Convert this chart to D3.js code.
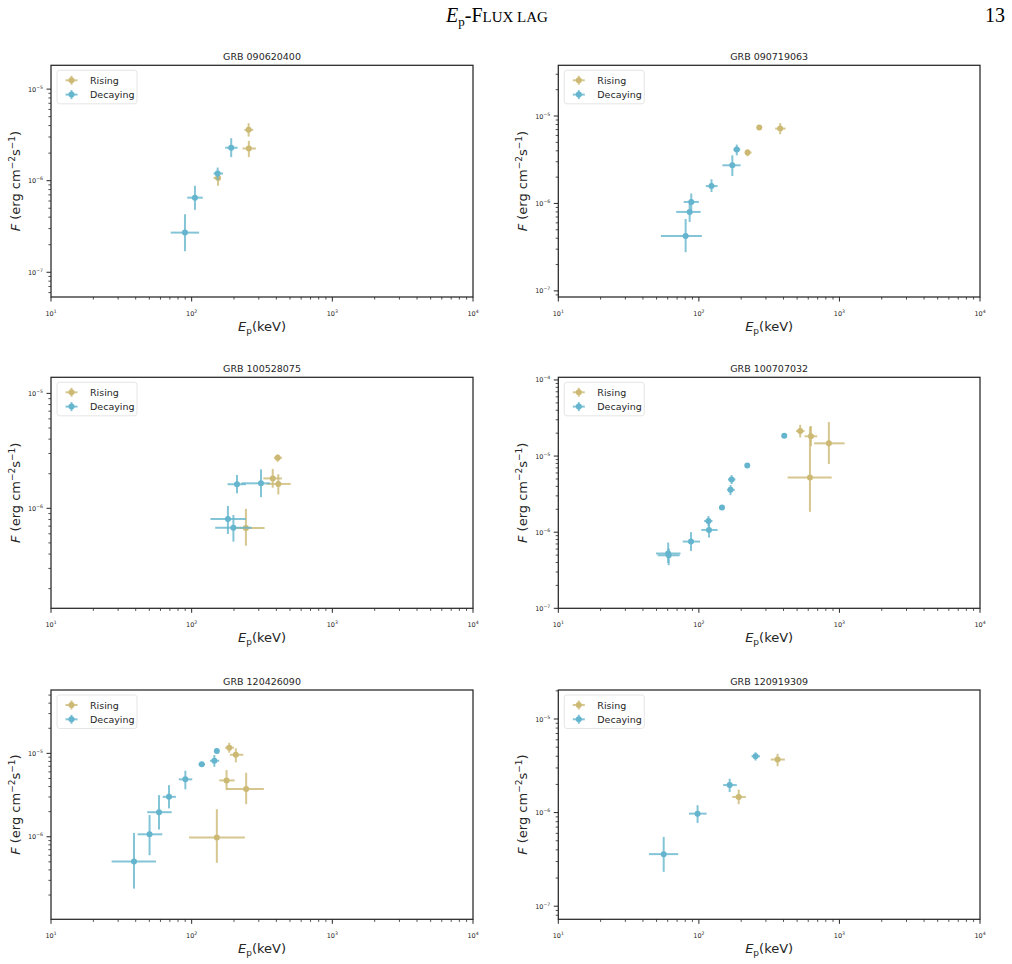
<!DOCTYPE html>
<html><head><meta charset="utf-8">
<script src="https://cdn.jsdelivr.net/npm/d3@7"></script>
<style>
body{margin:0;background:#fff;}
svg{display:block;}
text{font-family:"DejaVu Sans",sans-serif;fill:#262626;}
</style></head>
<body>
<svg id="chart" width="1012" height="964"></svg>
<script>
// ---- Data: rows are [Ep, Ep_low, Ep_high, Flux, Flux_low, Flux_high] ----
const titles = ["GRB 090620400","GRB 090719063","GRB 100528075","GRB 100707032","GRB 120426090","GRB 120919309"];
const seriesNames = ["Rising","Decaying"];

const rise1 = [[154,143,160,1.07e-6,8.8e-7,1.19e-6],[254,237,274,3.59e-6,3.03e-6,4.25e-6],[255,230,286,2.25e-6,1.81e-6,2.72e-6]];
const decay1 = [[89.6,71,113,2.71e-7,1.7e-7,4.3e-7],[105.5,93,120,6.53e-7,4.8e-7,8.8e-7],[153,143,167,1.2e-6,1.02e-6,1.39e-6],[191,173,212,2.29e-6,1.81e-6,2.91e-6]];

const rise2 = [[222,215,237,3.82e-6,3.46e-6,4.16e-6],[269,265,273,7.37e-6,7.1e-6,7.6e-6],[379,349,414,7.18e-6,6.18e-6,8.3e-6]];
const decay2 = [[80.5,53.7,105,4.25e-7,2.77e-7,6.65e-7],[86,69,103,8.0e-7,6.15e-7,9.97e-7],[88.3,78,100,1.04e-6,8.4e-7,1.3e-6],[123,112,136,1.58e-6,1.35e-6,1.89e-6],[173,147,198,2.73e-6,2.06e-6,3.55e-6],[186,176,197,4.13e-6,3.55e-6,4.71e-6]];

const rise3 = [[243,198,330,6.74e-7,4.73e-7,9.9e-7],[377,323,438,1.82e-6,1.51e-6,2.2e-6],[413,341,506,1.63e-6,1.32e-6,1.98e-6],[409,385,438,2.75e-6,2.54e-6,2.95e-6]];
const decay3 = [[210,180,243,1.62e-6,1.35e-6,1.95e-6],[311,226,361,1.65e-6,1.25e-6,2.18e-6],[181,136,243,8.07e-7,5.98e-7,1.05e-6],[198,147,267,6.78e-7,5.13e-7,8.75e-7]];

const rise4 = [[526,491,565,2.13e-5,1.76e-5,2.58e-5],[627,565,695,1.82e-5,1.35e-5,2.48e-5],[841,659,1089,1.47e-5,7.85e-6,2.8e-5],[617,428,881,5.25e-6,1.85e-6,2.43e-5]];
const decay4 = [[60.5,49.5,74,5.25e-7,3.94e-7,7.3e-7],[61,51,73,4.97e-7,3.68e-7,6.1e-7],[87.9,76.8,102,7.53e-7,5.67e-7,1.0e-6],[118,104,136,1.07e-6,8.5e-7,1.3e-6],[117,109,125,1.4e-6,1.2e-6,1.63e-6],[146,140,152,2.11e-6,1.98e-6,2.25e-6],[168,159,180,3.6e-6,3.07e-6,4.15e-6],[171,161,182,4.93e-6,4.28e-6,5.62e-6],[221,216,226,7.53e-6,7.1e-6,8.0e-6],[405,400,410,1.85e-5,1.8e-5,1.9e-5]];

const rise5 = [[185,173,200,1.17e-5,1.02e-5,1.34e-5],[206,187,233,9.62e-6,7.8e-6,1.15e-5],[177,157,202,4.74e-6,3.63e-6,6.3e-6],[244,177,326,3.73e-6,2.46e-6,5.85e-6],[151,95.7,239,9.82e-7,4.87e-7,2.14e-6]];
const decay5 = [[38.9,27,55.7,5.05e-7,2.39e-7,1.11e-6],[50.2,41.3,61.8,1.07e-6,6.0e-7,1.82e-6],[58.6,48.3,72.1,1.97e-6,1.22e-6,3.16e-6],[69,62.2,77.3,3.01e-6,2.19e-6,4.16e-6],[90.2,81,101,4.88e-6,3.7e-6,6.18e-6],[118,112,124,7.38e-6,6.9e-6,7.9e-6],[145,135,157,8.15e-6,6.9e-6,9.55e-6],[151,148,154,1.07e-5,1.03e-5,1.1e-5]];

const rise6 = [[192,173,216,1.47e-6,1.23e-6,1.76e-6],[363,325,409,3.69e-6,3.13e-6,4.25e-6]];
const decay6 = [[56.2,44.2,71.3,3.6e-7,2.33e-7,5.5e-7],[97.9,85.1,113.5,9.75e-7,7.75e-7,1.2e-6],[165.6,149,186,1.97e-6,1.66e-6,2.3e-6],[253,237,272,4.0e-6,3.6e-6,4.41e-6]];

// axis limits (log10 exponents)
const xLimExp = [1, 4];
const yLimExp = [[-7.27,-4.74],[-7.07,-4.42],[-6.87,-4.86],[-7.0,-3.965],[-6.99,-4.24],[-7.14,-4.69]];

const riseSets = [rise1,rise2,rise3,rise4,rise5,rise6];
const decaySets = [decay1,decay2,decay3,decay4,decay5,decay6];

// ---- Layout ----
const colors = {Rising:"#CCB974", Decaying:"#64B5CD"};
const colX = [[51,473],[558.3,980]];
const rowY = [[65.3,297],[377.3,608.3],[690,919.3]];
const ink = "#262626";

const svg = d3.select("#chart");

// page header
const hdr = svg.append("text").attr("x",497).attr("y",22).attr("text-anchor","middle")
  .style("font-family","'Liberation Serif','DejaVu Serif',serif").style("font-size","20px").style("fill","#000");
hdr.append("tspan").style("font-style","italic").text("E");
hdr.append("tspan").attr("dy",4).style("font-size","13px").text("p");
hdr.append("tspan").attr("dy",-4).text("-F");
hdr.append("tspan").style("font-size","15px").text("LUX LAG");
svg.append("text").attr("x",1005).attr("y",22).attr("text-anchor","end")
  .style("font-family","'Liberation Serif','DejaVu Serif',serif").style("font-size","20px").style("fill","#000").text("13");

function powLabel(sel, exp){
  sel.append("tspan").style("font-size","6.5px").text("10");
  sel.append("tspan").attr("dy",-3).style("font-size","4.6px").text(exp<0 ? "\u2212"+(-exp) : exp);
}

function minorTicks(lo, hi){
  const out=[];
  for(let e=Math.floor(lo); e<=Math.ceil(hi); e++){
    for(let m=1;m<=9;m++){
      const v = m*Math.pow(10,e);
      const l = Math.log10(v);
      if(l>=lo-1e-9 && l<=hi+1e-9) out.push({v, major:m===1, exp:e});
    }
  }
  return out;
}

for(let i=0;i<6;i++){
  const [x0,x1] = colX[i%2];
  const [y0,y1] = rowY[Math.floor(i/2)];
  const xs = d3.scaleLog().domain([Math.pow(10,xLimExp[0]),Math.pow(10,xLimExp[1])]).range([x0,x1]);
  const ys = d3.scaleLog().domain([Math.pow(10,yLimExp[i][0]),Math.pow(10,yLimExp[i][1])]).range([y1,y0]);
  const g = svg.append("g");

  // title
  g.append("text").attr("x",(x0+x1)/2).attr("y",y0-5).attr("text-anchor","middle")
    .style("font-size","9.5px").text(titles[i]);

  // x ticks
  const xt = minorTicks(xLimExp[0], xLimExp[1]);
  xt.forEach(t=>{
    const x = xs(t.v);
    g.append("line").attr("x1",x).attr("x2",x).attr("y1",y1).attr("y2",y1+(t.major?4.5:2.6))
      .attr("stroke",ink).attr("stroke-width",t.major?1:0.8);
    if(t.major){
      const tx = g.append("text").attr("x",x).attr("y",y1+18.5).attr("text-anchor","middle");
      powLabel(tx,t.exp);
    }
  });
  // y ticks
  const yt = minorTicks(yLimExp[i][0], yLimExp[i][1]);
  yt.forEach(t=>{
    const y = ys(t.v);
    g.append("line").attr("x1",x0).attr("x2",x0-(t.major?4.5:2.6)).attr("y1",y).attr("y2",y)
      .attr("stroke",ink).attr("stroke-width",t.major?1:0.8);
    if(t.major){
      const ty = g.append("text").attr("x",x0-8).attr("y",y+2.5).attr("text-anchor","end");
      powLabel(ty,t.exp);
    }
  });

  // frame
  g.append("rect").attr("x",x0).attr("y",y0).attr("width",x1-x0).attr("height",y1-y0)
    .attr("fill","none").attr("stroke",ink).attr("stroke-width",1.25);

  // axis labels
  const xl = g.append("text").attr("x",(x0+x1)/2).attr("y",y1+34).attr("text-anchor","middle").style("font-size","13px");
  xl.append("tspan").style("font-style","italic").text("E");
  xl.append("tspan").attr("dy",3).style("font-size","9px").text("p");
  xl.append("tspan").attr("dy",-3).text("(keV)");

  const yl = g.append("text").attr("transform",`translate(${x0-31},${(y0+y1)/2}) rotate(-90)`)
    .attr("text-anchor","middle").style("font-size","13px");
  yl.append("tspan").style("font-style","italic").text("F");
  yl.append("tspan").text(" (erg cm");
  yl.append("tspan").attr("dy",-5).style("font-size","9px").text("\u22122");
  yl.append("tspan").attr("dy",5).text("s");
  yl.append("tspan").attr("dy",-5).style("font-size","9px").text("\u22121");
  yl.append("tspan").attr("dy",5).text(")");

  // data
  const sets = [[seriesNames[0], riseSets[i]],[seriesNames[1], decaySets[i]]];
  sets.forEach(([name,data])=>{
    const c = colors[name];
    const eg = g.append("g");
    eg.selectAll("line.h").data(data).join("line").attr("class","h")
      .attr("x1",d=>xs(d[1])).attr("x2",d=>xs(d[2])).attr("y1",d=>ys(d[3])).attr("y2",d=>ys(d[3]))
      .attr("stroke",c).attr("stroke-width",2).attr("stroke-opacity",0.8);
    eg.selectAll("line.v").data(data).join("line").attr("class","v")
      .attr("x1",d=>xs(d[0])).attr("x2",d=>xs(d[0])).attr("y1",d=>ys(d[4])).attr("y2",d=>ys(d[5]))
      .attr("stroke",c).attr("stroke-width",2).attr("stroke-opacity",0.8);
    eg.selectAll("circle").data(data).join("circle")
      .attr("cx",d=>xs(d[0])).attr("cy",d=>ys(d[3])).attr("r",3).attr("fill",c);
  });

  // legend
  const lg = g.append("g");
  lg.append("rect").attr("x",x0+6).attr("y",y0+5).attr("width",80).attr("height",33.5).attr("rx",2.5)
    .attr("fill","#fff").attr("fill-opacity",0.8).attr("stroke","#dedede").attr("stroke-width",0.8);
  seriesNames.forEach((name,k)=>{
    const cy = y0+15+k*14.3, cx = x0+20.5;
    const c = colors[name];
    lg.append("line").attr("x1",cx-6).attr("x2",cx+6).attr("y1",cy).attr("y2",cy).attr("stroke",c).attr("stroke-width",2).attr("stroke-opacity",0.8);
    lg.append("line").attr("x1",cx).attr("x2",cx).attr("y1",cy-4.5).attr("y2",cy+4.5).attr("stroke",c).attr("stroke-width",2).attr("stroke-opacity",0.8);
    lg.append("circle").attr("cx",cx).attr("cy",cy).attr("r",3).attr("fill",c);
    lg.append("text").attr("x",x0+39).attr("y",cy+3.5).style("font-size","9.5px").text(name);
  });
}
</script>
</body></html>
